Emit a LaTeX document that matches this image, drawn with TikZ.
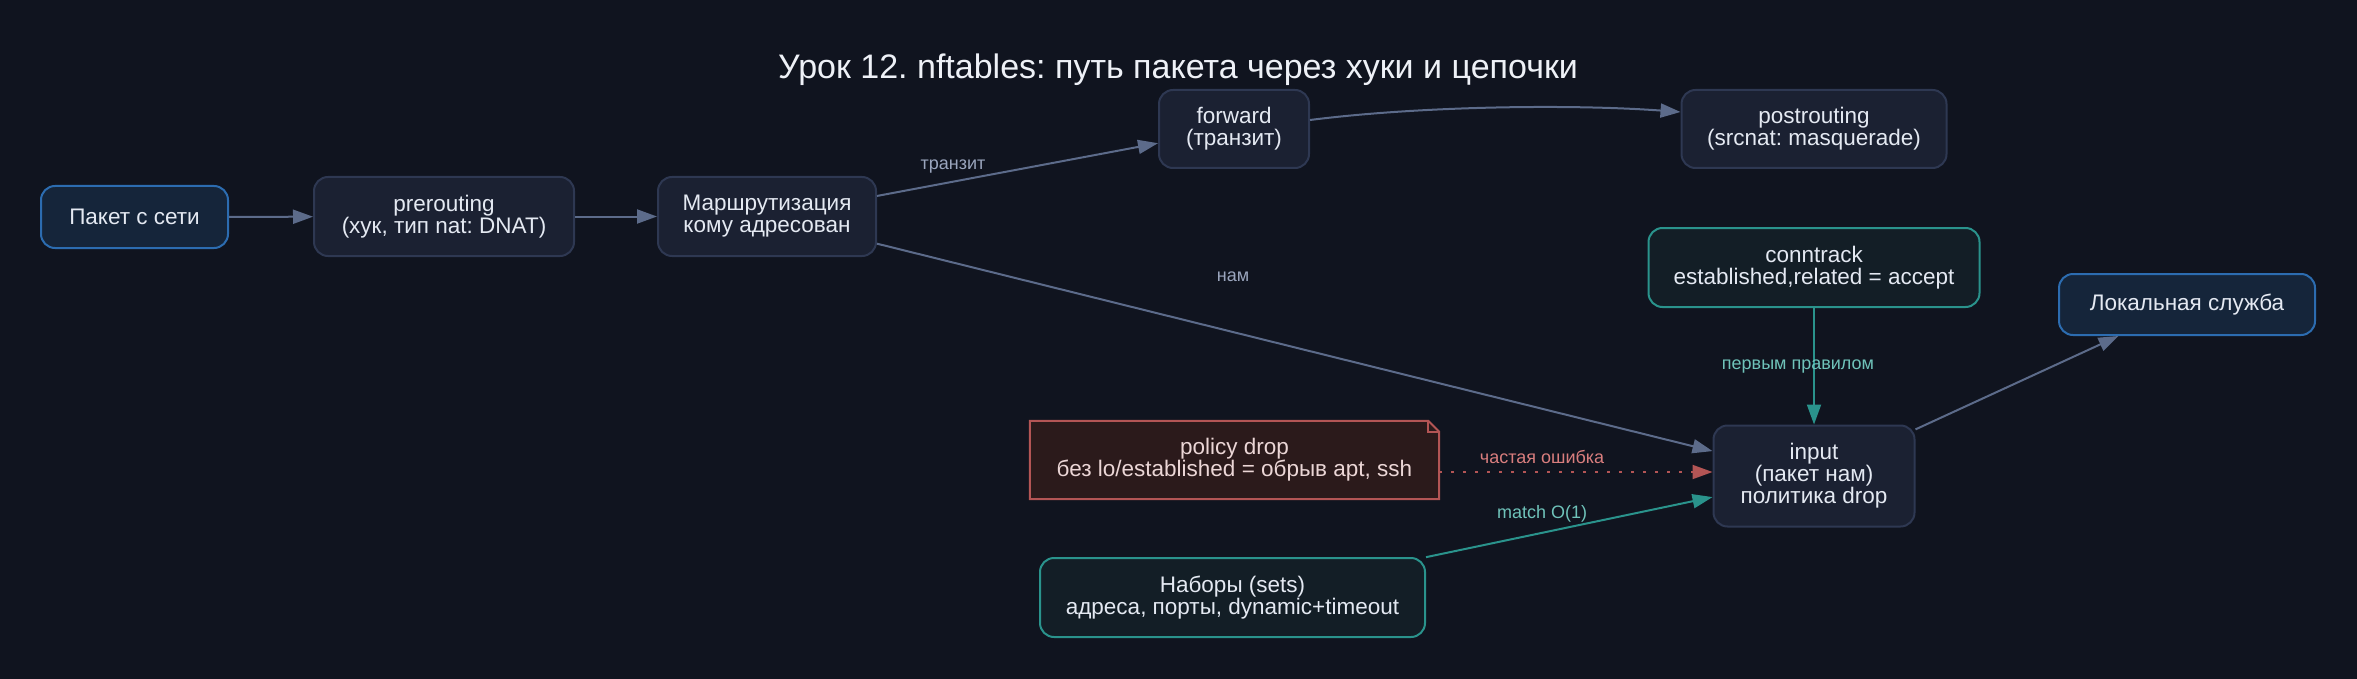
\documentclass[tikz,border=0pt]{standalone}
\usepackage{fontspec}
\setmainfont{Liberation Sans}
\usetikzlibrary{arrows.meta,calc,backgrounds}
\definecolor{bg}{HTML}{10141F}
\definecolor{dkfill}{HTML}{1B2132}
\definecolor{dkline}{HTML}{2E3852}
\definecolor{blfill}{HTML}{15253A}
\definecolor{blline}{HTML}{2C6CB0}
\definecolor{tlfill}{HTML}{131E26}
\definecolor{tlline}{HTML}{2A938C}
\definecolor{ntfill}{HTML}{2B1A1B}
\definecolor{ntline}{HTML}{B35555}
\definecolor{nttxt}{HTML}{EBD6D6}
\definecolor{txt}{HTML}{E4E9F2}
\definecolor{edgec}{HTML}{5C6B8A}
\definecolor{lblc}{HTML}{9AA5BD}
\definecolor{tllbl}{HTML}{6FC3BA}
\definecolor{rdlbl}{HTML}{D97E7E}
\definecolor{titlec}{HTML}{EEF1F7}
\frenchspacing
\begin{document}
\begin{tikzpicture}[x=1pt,y=-1pt,
  box/.style={rounded corners=14pt, draw, line width=2pt, align=center, inner sep=0pt,
    font=\fontsize{22.5}{22}\selectfont, text=txt},
  darkbox/.style={box, fill=dkfill, draw=dkline},
  bluebox/.style={box, fill=blfill, draw=blline},
  tealbox/.style={box, fill=tlfill, draw=tlline},
  notebox/.style={align=center, inner sep=0pt, font=\fontsize{22.5}{22}\selectfont, text=nttxt},
  edge/.style={draw=edgec, line width=2pt, -{Triangle[length=20pt,width=14pt]}},
  tedge/.style={edge, draw=tlline},
  redge/.style={edge, draw=ntline, dash pattern=on 3pt off 9pt},
  lbl/.style={font=\fontsize{18}{20}\selectfont, text=lblc}
]
\begin{scope}[on background layer]
\fill[bg] (0,0) rectangle (2357,679);
\end{scope}
\useasboundingbox (0,0) rectangle (2357,679);

\node[font=\fontsize{34}{38}\selectfont, text=titlec] (title) at (1178,70) {Урок 12. nftables: путь пакета через хуки и цепочки};

\node[bluebox, minimum width=187pt, minimum height=62pt] (pak) at (134.5,217) {Пакет с сети};
\node[darkbox, minimum width=260pt, minimum height=79pt] (pre) at (444,216.5) {prerouting\\(хук, тип nat: DNAT)};
\node[darkbox, minimum width=218pt, minimum height=79pt] (route) at (767,216.5) {Маршрутизация\\кому адресован};
\node[darkbox, minimum width=150pt, minimum height=78pt] (fwd) at (1234,129) {forward\\(транзит)};
\node[darkbox, minimum width=265pt, minimum height=78pt] (post) at (1814,129) {postrouting\\(srcnat: masquerade)};
\node[tealbox, minimum width=331pt, minimum height=79pt] (ct) at (1814,267.5) {conntrack\\established,related = accept};
\node[bluebox, minimum width=256pt, minimum height=61pt] (local) at (2187,304.5) {Локальная служба};
\node[darkbox, minimum width=201pt, minimum height=101pt] (input) at (1814,476) {input\\(пакет нам)\\политика drop};
\node[notebox, minimum width=409pt, minimum height=78pt] (note) at (1234.5,460) {policy drop\\без lo/established = обрыв apt, ssh};
\node[tealbox, minimum width=385pt, minimum height=79pt] (sets) at (1232.5,597.5) {Наборы (sets)\\адреса, порты, dynamic+timeout};

\begin{scope}[on background layer]
\draw[ntline, fill=ntfill, line width=2pt] (note.north west) -- ([xshift=-11pt]note.north east) -- ([yshift=-11pt]note.north east) -- (note.south east) -- (note.south west) -- cycle;
\draw[ntline, line width=2pt] ([xshift=-11pt]note.north east) -- ([xshift=-11pt,yshift=-11pt]note.north east) -- ([yshift=-11pt]note.north east);
\end{scope}

\draw[edge] (pak) -- (pre);
\draw[edge] (pre) -- (route);
\draw[edge] (route) -- (fwd);
\draw[edge] ([yshift=9pt]fwd.east) .. controls +(110,-14) and +(-110,-8) .. ([yshift=17pt]post.west);
\draw[edge] (route) -- (input);
\draw[tedge] (ct) -- (input);
\draw[redge] ([yshift=-12pt]note.east) -- ([yshift=-12pt]note.east -| input.west);
\draw[tedge] (sets) -- (input);
\draw[edge] (input) -- (local);

\node[lbl] (ltr) at (953,167) {транзит};
\node[lbl] (lnam) at (1233,277) {нам};
\node[lbl, text=tllbl] (lfirst) at (1798,367) {первым правилом};
\node[lbl, text=rdlbl] (lerr) at (1542,457) {частая ошибка};
\node[lbl, text=tllbl] (lmatch) at (1542,514) {match O(1)};
\end{tikzpicture}
\end{document}
